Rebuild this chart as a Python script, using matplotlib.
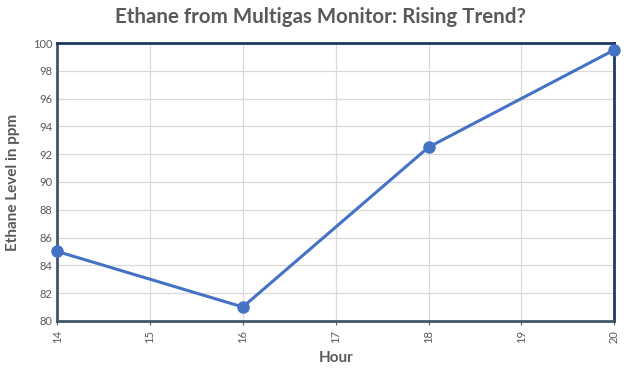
import matplotlib.pyplot as plt

hours = [14, 16, 18, 20]
ethane = [85, 81, 92.5, 99.5]

plt.rcParams["font.family"] = ["Lato", "DejaVu Sans"]
grey = "#595959"

fig = plt.figure(figsize=(6.28, 3.74), dpi=100)
ax = fig.add_axes([0.091, 0.142, 0.887, 0.743])

ax.plot(hours, ethane, color="#4472c4", linewidth=2.2, marker="o",
        markersize=8, zorder=3, clip_on=False)

ax.set_xlim(14, 20)
ax.set_ylim(80, 100)
ax.set_xticks(range(14, 21))
ax.set_yticks(range(80, 101, 2))
ax.grid(True, color="#d9d9d9", linewidth=0.9)
ax.set_axisbelow(True)
ax.tick_params(axis="x", labelrotation=90, labelsize=8, colors=grey, length=3)
ax.tick_params(axis="y", labelsize=8, colors=grey, length=0)

ax.spines["top"].set_color("#1f3864")
ax.spines["right"].set_color("#1f3864")
ax.spines["left"].set_color("#44546a")
ax.spines["bottom"].set_color("#44546a")
for s in ax.spines.values():
    s.set_linewidth(2)

ax.set_xlabel("Hour", fontsize=11, fontweight="bold", color=grey, labelpad=6)
ax.set_ylabel("Ethane Level in ppm", fontsize=11, fontweight="bold", color=grey,
              labelpad=9)
fig.text(0.51, 0.955, "Ethane from Multigas Monitor: Rising Trend?", fontsize=14.8,
         fontweight="bold", color=grey, ha="center", va="center")

fig.savefig("out.png", dpi=100)
